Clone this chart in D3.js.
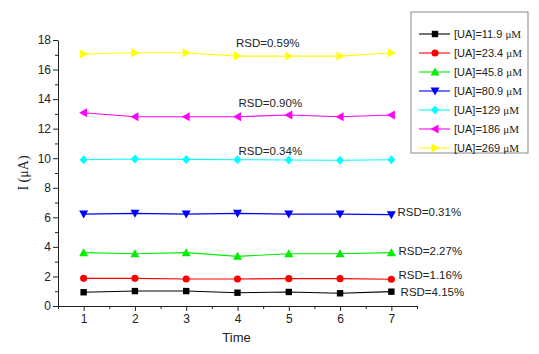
<!DOCTYPE html>
<html>
<head>
<meta charset="utf-8">
<script src="https://cdn.jsdelivr.net/npm/d3@7/dist/d3.min.js"></script>
<style>
  body { margin: 0; background: #fff; }
  svg { display: block; }
</style>
</head>
<body>
<div id="chart"></div>
<script>
const times = [1, 2, 3, 4, 5, 6, 7];
const concentrations = ["11.9", "23.4", "45.8", "80.9", "129", "186", "269"];
const colors = ["#000000", "#ff0000", "#00ee00", "#0000ff", "#00ffff", "#ff00ff", "#ffff00"];
const markers = ["square", "circle", "up", "down", "diamond", "left", "right"];
const ua119 = [0.93, 1.01, 1.01, 0.90, 0.95, 0.86, 0.97];
const ua234 = [1.87, 1.87, 1.83, 1.83, 1.85, 1.85, 1.81];
const ua458 = [3.61, 3.54, 3.61, 3.36, 3.54, 3.54, 3.61];
const ua809 = [6.22, 6.27, 6.22, 6.27, 6.22, 6.22, 6.18];
const ua129 = [9.90, 9.95, 9.92, 9.90, 9.88, 9.86, 9.90];
const ua186 = [13.08, 12.81, 12.81, 12.81, 12.92, 12.81, 12.92];
const ua269 = [17.05, 17.14, 17.14, 16.91, 16.91, 16.91, 17.14];
const rsdLabels = ["RSD=4.15%", "RSD=1.16%", "RSD=2.27%", "RSD=0.31%", "RSD=0.34%", "RSD=0.90%", "RSD=0.59%"];
const yTickValues = [0, 2, 4, 6, 8, 10, 12, 14, 16, 18];

const series = [ua119, ua234, ua458, ua809, ua129, ua186, ua269];

const totalWidth = 539, totalHeight = 354;
const mLeft = 58, mTop = 40, plotW = 359, plotH = 266;

const svg = d3.select("#chart").append("svg")
    .attr("width", totalWidth)
    .attr("height", totalHeight);

const xScale = d3.scaleLinear().domain([0.5, 7.5]).range([mLeft, mLeft + plotW]);
const yScale = d3.scaleLinear().domain([0, 18]).range([mTop + plotH, mTop]);

// axes: major + minor ticks pointing outward
const xMinor = d3.range(0.5, 7.51, 0.5).filter(v => v % 1 !== 0);
const yMinor = d3.range(1, 18, 2);

const gx = svg.append("g").attr("transform", "translate(0," + (mTop + plotH) + ")");
gx.call(d3.axisBottom(xScale).tickValues(times).tickFormat(d3.format("d"))
    .tickSize(5).tickSizeOuter(0).tickPadding(3));
gx.append("g").call(d3.axisBottom(xScale).tickValues(xMinor).tickSize(3).tickFormat(""))
    .select(".domain").remove();

const gy = svg.append("g").attr("transform", "translate(" + mLeft + ",0)");
gy.call(d3.axisLeft(yScale).tickValues(yTickValues).tickSize(5).tickSizeOuter(0).tickPadding(2));
gy.append("g").call(d3.axisLeft(yScale).tickValues(yMinor).tickSize(3).tickFormat(""))
    .select(".domain").remove();

svg.selectAll(".tick text")
    .attr("font-family", "Liberation Sans, Arial, sans-serif")
    .attr("font-size", "12px")
    .attr("fill", "#222");
svg.selectAll(".domain, .tick line").attr("stroke", "#222");

// axis titles
svg.append("text")
    .attr("x", xScale(4) - 1)
    .attr("y", 342)
    .attr("text-anchor", "middle")
    .attr("font-family", "Liberation Sans, Arial, sans-serif")
    .attr("font-size", "13px")
    .attr("fill", "#222")
    .text("Time");

svg.append("text")
    .attr("transform", "translate(28," + yScale(9) + ") rotate(-90)")
    .attr("text-anchor", "middle")
    .attr("font-family", "Liberation Serif, Times New Roman, serif")
    .attr("font-size", "14px")
    .attr("fill", "#222")
    .text("I (\u03bcA)");

function markerPath(type) {
    if (type === "square") return "M-3.2,-3.2H3.2V3.2H-3.2Z";
    if (type === "circle") return d3.symbol(d3.symbolCircle, 40)();
    if (type === "up") return "M0,-4.5L4.5,3.5L-4.5,3.5Z";
    if (type === "down") return "M0,4.5L4.5,-3.5L-4.5,-3.5Z";
    if (type === "diamond") return "M0,-4.5L4,0L0,4.5L-4,0Z";
    if (type === "left") return "M-4.5,0L3.5,-4.5L3.5,4.5Z";
    if (type === "right") return "M4.5,0L-3.5,-4.5L-3.5,4.5Z";
    return "";
}

const line = d3.line()
    .x((d, i) => xScale(times[i]))
    .y(d => yScale(d));

series.forEach(function (vals, k) {
    const g = svg.append("g");
    g.append("path")
        .datum(vals)
        .attr("d", line)
        .attr("fill", "none")
        .attr("stroke", colors[k])
        .attr("stroke-width", 1.1);
    g.selectAll("path.mk")
        .data(vals)
        .enter().append("path")
        .attr("class", "mk")
        .attr("d", markerPath(markers[k]))
        .attr("transform", (d, i) => "translate(" + xScale(times[i]) + "," + yScale(d) + ")")
        .attr("fill", colors[k]);
});

// RSD annotations
const rsdPos = [
    [7.18, 0.66], [7.14, 1.8], [7.14, 3.45], [7.12, 6.1],
    [4.02, 10.2], [4.02, 13.5], [3.97, 17.55]
];
svg.selectAll("text.rsd")
    .data(rsdLabels)
    .enter().append("text")
    .attr("class", "rsd")
    .attr("x", (d, i) => xScale(rsdPos[i][0]))
    .attr("y", (d, i) => yScale(rsdPos[i][1]))
    .attr("font-family", "Liberation Sans, Arial, sans-serif")
    .attr("font-size", "11.5px")
    .attr("fill", "#222")
    .text(d => d);

// legend
const legend = svg.append("g").attr("transform", "translate(411,12)");
legend.append("rect")
    .attr("width", 117)
    .attr("height", 141)
    .attr("fill", "#fff")
    .attr("stroke", "#888")
    .attr("stroke-width", 1);

const entries = legend.selectAll("g.entry")
    .data(concentrations)
    .enter().append("g")
    .attr("class", "entry")
    .attr("transform", (d, i) => "translate(0," + (22 + i * 19) + ")");

entries.append("line")
    .attr("x1", 8).attr("x2", 39)
    .attr("stroke", (d, i) => colors[i])
    .attr("stroke-width", 1.1);
entries.append("path")
    .attr("d", (d, i) => markerPath(markers[i]))
    .attr("transform", "translate(24,0)")
    .attr("fill", (d, i) => colors[i]);

const label = entries.append("text")
    .attr("x", 43)
    .attr("y", 4)
    .attr("font-family", "Liberation Sans, Arial, sans-serif")
    .attr("font-size", "11px")
    .attr("fill", "#222");
label.append("tspan").text(d => "[UA]=" + d + " ");
label.append("tspan")
    .attr("font-family", "Liberation Serif, Times New Roman, serif")
    .text("\u03bcM");
</script>
</body>
</html>
